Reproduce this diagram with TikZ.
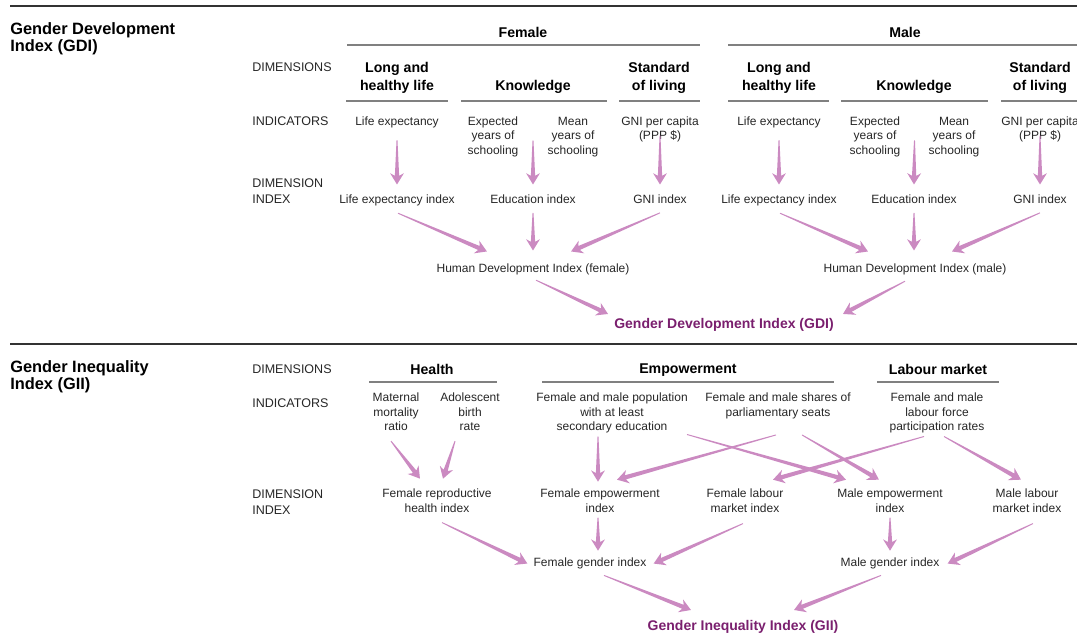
\documentclass[tikz,border=0pt]{standalone}
\usepackage{fontspec}
\setmainfont{Liberation Sans}
\usepackage{xcolor}
\usetikzlibrary{positioning,calc}
\definecolor{flowcol}{HTML}{CB8AC1}
\definecolor{titlecol}{HTML}{7A1F6E}
\definecolor{rulecol}{HTML}{808080}
\definecolor{barcol}{HTML}{333333}
\tikzset{
	txt/.style={inner sep=0pt, anchor=north, align=center, text=black!85,
		font=\fontsize{9}{10.9}\selectfont},
	rowlabel/.style={inner sep=0pt, anchor=north west, align=left, text=black!85,
		font=\fontsize{9.4}{12}\selectfont},
	heading/.style={inner sep=0pt, anchor=north, align=center,
		font=\fontsize{10.6}{13.5}\selectfont\bfseries},
	sectitle/.style={inner sep=0pt, anchor=north west, align=left,
		font=\fontsize{12.3}{12.8}\selectfont\bfseries},
	result/.style={inner sep=0pt, anchor=north, text=titlecol,
		font=\fontsize{10.5}{12}\selectfont\bfseries},
	subrule/.style={draw=rulecol, line width=1.1pt},
	mainrule/.style={draw=barcol, line width=1.5pt}
}
% tapered arrow from #1 to #2
\newcommand\flow[2]{%
	\fill[flowcol] let \p1=(#1), \p2=(#2),
		\n1={atan2(\y2-\y1,\x2-\x1)}, \n2={veclen(\x2-\x1,\y2-\y1)} in
		[shift={(\x1,\y1)}, rotate=\n1]
		(0pt,-0.35pt) -- (\n2-6.5pt,-1.6pt) -- (\n2-8.5pt,-5.2pt) -- (\n2,0pt)
		-- (\n2-8.5pt,5.2pt) -- (\n2-6.5pt,1.6pt) -- (0pt,0.35pt) -- cycle;}

\begin{document}
\begin{tikzpicture}[x=0.75pt,y=-0.75pt]
	\useasboundingbox (0,0) rectangle (1077,634);
	
	%Rules
	\draw[mainrule] (10,6) -- (1077,6);
	\draw[mainrule] (10,344) -- (1077,344);
	
	%GDI labels
	\node[sectitle] (gditl) at (10,22) {Gender Development\\Index (GDI)};
	\node[rowlabel] (dim1) at (252,62.5) {DIMENSIONS};
	\node[rowlabel] (ind1) at (252,116.5) {INDICATORS};
	\node[rowlabel] (dix1) at (252,178.5) {DIMENSION\\INDEX};
	
	%GDI headings
	\node[heading] (fem) at (523,27) {Female};
	\node[heading] (mal) at (905,27) {Male};
	\draw[subrule] (347,45) -- (700,45);
	\draw[subrule] (728,45) -- (1077,45);
	\node[heading] (lhf) at (397,62) {Long and\\healthy life};
	\node[heading] (knf) at (533,80) {Knowledge};
	\node[heading] (slf) at (659,62) {Standard\\of living};
	\node[heading] (lhm) at (779,62) {Long and\\healthy life};
	\node[heading] (knm) at (914,80) {Knowledge};
	\node[heading] (slm) at (1040,62) {Standard\\of living};
	\draw[subrule] (346,101) -- (448,101);
	\draw[subrule] (461,101) -- (607,101);
	\draw[subrule] (619,101) -- (700,101);
	\draw[subrule] (728,101) -- (829,101);
	\draw[subrule] (841,101) -- (988,101);
	\draw[subrule] (1001,101) -- (1077,101);
	
	%GDI indicators
	\node[txt] (lef) at (397,116.5) {Life expectancy};
	\node[txt] (eyf) at (493,116.5) {Expected\\years of\\schooling};
	\node[txt] (myf) at (573,116.5) {Mean\\years of\\schooling};
	\node[txt] (gnf) at (660,116.5) {GNI per capita\\(PPP \$)};
	\node[txt] (lem) at (779,116.5) {Life expectancy};
	\node[txt] (eym) at (875,116.5) {Expected\\years of\\schooling};
	\node[txt] (mym) at (954,116.5) {Mean\\years of\\schooling};
	\node[txt] (gnm) at (1040,116.5) {GNI per capita\\(PPP \$)};
	
	%GDI dimension index
	\node[txt] (leif) at (397,194.5) {Life expectancy index};
	\node[txt] (edf) at (533,194.5) {Education index};
	\node[txt] (gif) at (660,194.5) {GNI index};
	\node[txt] (leim) at (779,194.5) {Life expectancy index};
	\node[txt] (edm) at (914,194.5) {Education index};
	\node[txt] (gim) at (1040,194.5) {GNI index};
	
	\node[txt] (hdif) at (533,263.5) {Human Development Index (female)};
	\node[txt] (hdim) at (915,263.5) {Human Development Index (male)};
	\node[result] (gdi) at (724,318) {Gender Development Index (GDI)};
	
	%GDI arrows
	\flow{$(lef.south)+(0,12)$}{$(leif.north)+(0,-10)$}
	\flow{$(eyf.north)!.5!(myf.north)+(0,24)$}{$(edf.north)+(0,-10)$}
	\flow{$(gnf.south)+(0,-7)$}{$(gif.north)+(0,-10)$}
	\flow{$(lem.south)+(0,12)$}{$(leim.north)+(0,-10)$}
	\flow{$(eym.north)!.5!(mym.north)+(0,24)$}{$(edm.north)+(0,-10)$}
	\flow{$(gnm.south)+(0,-7)$}{$(gim.north)+(0,-10)$}
	
	\flow{$(leif.south)+(1,7)$}{$(hdif.north)+(-46,-12)$}
	\flow{$(edf.south)+(0,9)$}{$(hdif.north)+(0,-13)$}
	\flow{$(gif.south)+(0,9)$}{$(hdif.north)+(38,-12)$}
	\flow{$(leim.south)+(1,7)$}{$(hdim.north)+(-47,-12)$}
	\flow{$(edm.south)+(0,9)$}{$(hdim.north)+(-1,-13)$}
	\flow{$(gim.south)+(0,9)$}{$(hdim.north)+(37,-12)$}
	
	\flow{$(hdif.south)+(3,5)$}{$(gdi.north west)+(-6,-4)$}
	\flow{$(hdim.south)+(-10,6)$}{$(gdi.north east)+(9,-4)$}
	
	%GII labels
	\node[sectitle] (giitl) at (10,360) {Gender Inequality\\Index (GII)};
	\node[rowlabel] (dim2) at (252,364.5) {DIMENSIONS};
	\node[rowlabel] (ind2) at (252,398.5) {INDICATORS};
	\node[rowlabel] (dix2) at (252,489.5) {DIMENSION\\INDEX};
	
	%GII headings
	\node[heading] (hea) at (432,364) {Health};
	\node[heading] (emp) at (688,364) {Empowerment};
	\node[heading] (lab) at (938,364) {Labour market};
	\draw[subrule] (369,382) -- (497,382);
	\draw[subrule] (542,382) -- (834,382);
	\draw[subrule] (877,382) -- (999,382);
	
	%GII indicators
	\node[txt] (mmr) at (396,392.7) {Maternal\\mortality\\ratio};
	\node[txt] (abr) at (470,392.7) {Adolescent\\birth\\rate};
	\node[txt] (pop) at (612,392.7) {Female and male population\\with at least\\secondary education};
	\node[txt] (seats) at (778,392.7) {Female and male shares of\\parliamentary seats};
	\node[txt] (lfp) at (937,392.7) {Female and male\\labour force\\participation rates};
	
	%GII dimension index
	\node[txt] (frh) at (437,488.7) {Female reproductive\\health index};
	\node[txt] (fei) at (600,488.7) {Female empowerment\\index};
	\node[txt] (fli) at (745,488.7) {Female labour\\market index};
	\node[txt] (mei) at (890,488.7) {Male empowerment\\index};
	\node[txt] (mli) at (1027,488.7) {Male labour\\market index};
	
	\node[txt] (fgi) at (590,557.7) {Female gender index};
	\node[txt] (mgi) at (890,557.7) {Male gender index};
	\node[result] (gii) at (743,620) {Gender Inequality Index (GII)};
	
	%GII arrows
	\flow{$(mmr.south)+(-5,10)$}{$(frh.north)+(-17,-10)$}
	\flow{$(abr.south)+(-15,10)$}{$(frh.north)+(6,-10)$}
	\flow{$(pop.south)+(-14,3)$}{$(fei.north)+(-2,-7)$}
	\flow{$(pop.south)+(75,1)$}{$(mei.north)+(-44,-9)$}
	\flow{$(seats.south)+(-2,16)$}{$(fei.north)+(17,-9)$}
	\flow{$(seats.south)+(24,16)$}{$(mei.north)+(-11,-9)$}
	\flow{$(lfp.south)+(-13,3)$}{$(fli.north)+(28,-9)$}
	\flow{$(lfp.south)+(7,3)$}{$(mli.north)+(-6,-9)$}
	
	\flow{$(frh.south)+(5,10)$}{$(fgi.west)+(-6,0)$}
	\flow{$(fei.south)+(-2,5)$}{$(fgi.north)+(8,-7)$}
	\flow{$(fli.south)+(-2,11)$}{$(fgi.east)+(7,0)$}
	\flow{$(mei.south)+(0,5)$}{$(mgi.north)+(0,-7)$}
	\flow{$(mli.south)+(6,11)$}{$(mgi.east)+(8,0)$}
	
	\flow{$(fgi.south)+(14,6)$}{$(gii.north)+(-52,-10)$}
	\flow{$(mgi.south)+(-9,6)$}{$(gii.north)+(51,-10)$}
\end{tikzpicture}
\end{document}
